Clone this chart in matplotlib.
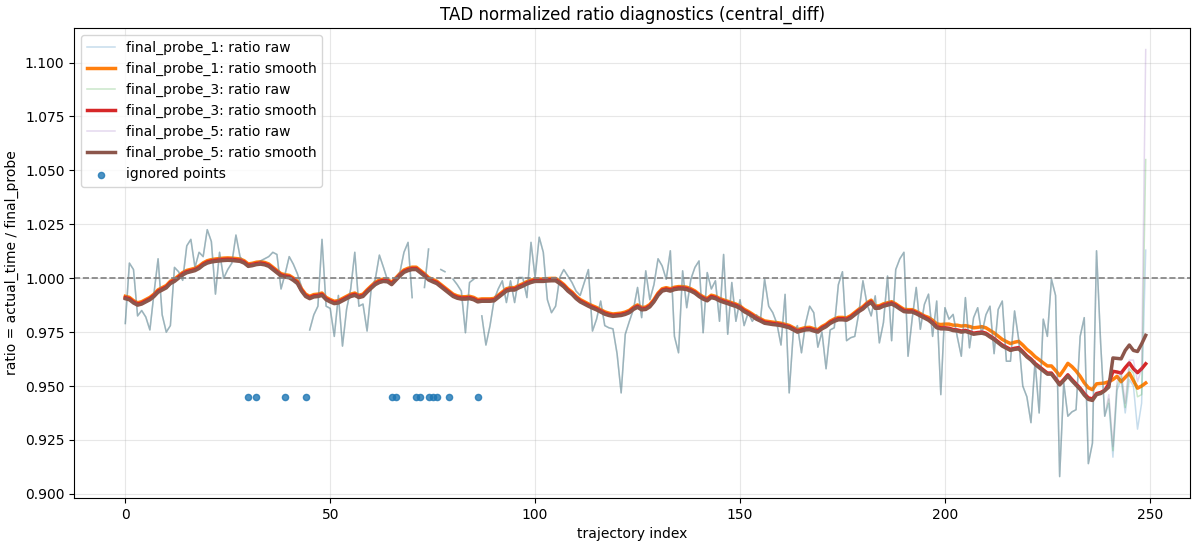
import matplotlib.pyplot as plt
import numpy as np

nan = np.nan

# raw ratio, identical for all probes up to index 239 (nan = ignored / missing)
raw_shared = [
    0.979, 1.007, 1.004, 0.9825, 0.985, 0.982, 0.976, 0.993, 1.009, 0.983,
    0.975, 0.978, 1.005, 1.003, 0.999, 1.015, 1.018, 1.005, 1.012, 1.010,
    1.0225, 1.017, 0.9926, 1.012, 1.000, 1.004, 1.007, 1.020, 1.010, 1.007,
    1.005, 1.007, 1.006, 1.008, 1.009, 1.010, 1.012, 1.011, 0.995, 1.002,
    1.010, 1.0065, 1.002, 0.996, nan, 0.976, 0.983, 0.987, 1.018, 0.987,
    0.986, 0.973, 0.992, 0.9685, 0.9856, 0.995, 1.012, 0.987, 0.988, 0.9755,
    0.995, 0.9995, 1.0107, 1.005, 0.999, 0.997, 1.000, 1.0026, 1.012, 1.0166,
    0.991, nan, nan, 0.9957, 1.0135, nan, nan, 1.004, 1.003, nan,
    0.9995, 0.997, 0.994, 0.9747, 0.998, 0.9995, nan, 0.9825, 0.969, 0.978,
    0.990, 0.995, 0.9988, 0.9887, 0.9988, 0.9887, 1.0003, 1.0003, 0.991, 1.0166,
    1.0003, 1.019, 1.012, 0.990, 0.984, 0.987, 1.0003, 1.004, 1.001, 0.998,
    0.994, 0.992, 0.998, 1.004, 0.9755, 0.981, 0.9894, 0.978, 0.977, 0.9765,
    0.965, 0.9468, 0.974, 0.980, 0.9856, 0.9957, 0.9817, 1.0034, 0.990, 0.997,
    1.009, 1.0057, 0.9995, 1.0127, 0.973, 0.9654, 1.0034, 0.9863, 0.9995, 1.005,
    1.008, 0.9747, 1.0026, 0.995, 0.9988, 0.980, 1.011, 0.974, 0.998, 0.980,
    0.990, 0.978, 0.984, 0.980, 0.983, 0.981, 0.9995, 0.987, 0.984, 0.979,
    0.969, 0.9925, 0.9468, 0.9747, 0.978, 0.9654, 0.979, 0.987, 0.984, 0.968,
    0.975, 0.958, 0.976, 0.977, 0.997, 1.003, 0.971, 0.9724, 0.973, 0.984,
    0.9988, 0.9879, 0.9825, 0.9918, 0.970, 0.9794, 1.001, 0.971, 1.004, 1.009,
    1.012, 0.9638, 0.981, 0.9957, 0.9763, 0.9879, 0.9926, 0.973, 0.9894, 0.946,
    0.9863, 0.981, 0.9832, 0.973, 0.9638, 0.991, 0.9677, 0.9817, 0.9863, 0.974,
    0.983, 0.987, 0.965, 0.9855, 0.9894, 0.9615, 0.9615, 0.9848, 0.9716, 0.950,
    0.945, 0.933, 0.9615, 0.9375, 0.981, 0.973, 0.9995, 0.992, 0.908, 0.9514,
    0.936, 0.938, 0.939, 0.973, 0.9817, 0.914, 0.9235, 1.0127, 0.970, 0.936,
]

# raw ratio per probe, indices 240-249
raw_tail_1 = [0.942, 0.917, 0.948, 0.953, 0.9375, 0.953, 0.950, 0.930, 0.942, 1.013]
raw_tail_3 = [0.944, 0.920, 0.950, 0.955, 0.940, 0.958, 0.956, 0.945, 0.946, 1.055]
raw_tail_5 = [0.946, 0.922, 0.952, 0.957, 0.942, 0.962, 0.962, 0.952, 0.958, 1.106]

# smoothed ratio per probe
smooth_1 = [
    0.9916, 0.9911, 0.9896, 0.9886, 0.9891, 0.9901, 0.9911, 0.9926, 0.9946, 0.9956,
    0.9966, 0.9986, 0.9996, 1.0011, 1.0026, 1.0036, 1.0041, 1.0046, 1.0056, 1.0071,
    1.0081, 1.0086, 1.0089, 1.0091, 1.0093, 1.0094, 1.0093, 1.0091, 1.0089, 1.0081,
    1.0066, 1.0069, 1.0074, 1.0076, 1.0073, 1.0066, 1.0051, 1.0036, 1.0021, 1.0016,
    1.0013, 1.0001, 0.9986, 0.9951, 0.9926, 0.9916, 0.9924, 0.9926, 0.9931, 0.9911,
    0.9901, 0.9893, 0.9896, 0.9906, 0.9916, 0.9926, 0.9931, 0.9921, 0.9926, 0.9946,
    0.9964, 0.9981, 0.9991, 0.9996, 0.9994, 0.9981, 1.0001, 1.0021, 1.0038, 1.0046,
    1.0051, 1.0051, 1.0036, 1.0021, 1.0003, 0.9994, 0.9986, 0.9971, 0.9956, 0.9941,
    0.9926, 0.9918, 0.9914, 0.9914, 0.9916, 0.9911, 0.9901, 0.9904, 0.9904, 0.9904,
    0.9906, 0.9921, 0.9936, 0.9951, 0.9956, 0.9956, 0.9966, 0.9974, 0.9984, 0.9991,
    0.9996, 0.9996, 0.9996, 0.9998, 0.9999, 0.9999, 0.9986, 0.9971, 0.9951, 0.9936,
    0.9916, 0.9901, 0.9891, 0.9881, 0.9872, 0.9864, 0.9854, 0.9844, 0.9838, 0.9834,
    0.9836, 0.9838, 0.9843, 0.9851, 0.9866, 0.9876, 0.9864, 0.9866, 0.9878, 0.9901,
    0.9931, 0.9951, 0.9956, 0.9951, 0.9958, 0.9961, 0.9961, 0.9958, 0.9951, 0.9941,
    0.9926, 0.9914, 0.9906, 0.9921, 0.9916, 0.9906, 0.9899, 0.9893, 0.9886, 0.9880,
    0.9871, 0.9856, 0.9846, 0.9834, 0.9821, 0.9812, 0.9802, 0.9799, 0.9796, 0.9794,
    0.9791, 0.9786, 0.9781, 0.9771, 0.9761, 0.9766, 0.9771, 0.9772, 0.9766, 0.9761,
    0.9776, 0.9786, 0.9801, 0.9811, 0.9818, 0.9818, 0.9816, 0.9826, 0.9841, 0.9856,
    0.9868, 0.9886, 0.9898, 0.9871, 0.9872, 0.9881, 0.9886, 0.9891, 0.9881, 0.9868,
    0.9856, 0.9854, 0.9854, 0.9846, 0.9836, 0.9825, 0.9818, 0.9805, 0.9788, 0.9785,
    0.9787, 0.9787, 0.9782, 0.9782, 0.9778, 0.9780, 0.9776, 0.9770, 0.9772, 0.9775,
    0.9770, 0.9758, 0.9746, 0.9731, 0.9716, 0.9706, 0.9697, 0.9703, 0.9707, 0.9690,
    0.9670, 0.9655, 0.9636, 0.9622, 0.9607, 0.9593, 0.9593, 0.9572, 0.9548, 0.9575,
    0.9605, 0.9590, 0.9570, 0.9545, 0.9515, 0.9492, 0.9483, 0.9510, 0.9512, 0.9514,
    0.9520, 0.9530, 0.9545, 0.9520, 0.9540, 0.9560, 0.9525, 0.9490, 0.9500, 0.9514,
]
smooth_3 = [
    0.991, 0.9905, 0.989, 0.988, 0.9885, 0.9895, 0.9905, 0.992, 0.994, 0.995,
    0.996, 0.998, 0.999, 1.0005, 1.002, 1.003, 1.0035, 1.004, 1.005, 1.0065,
    1.0075, 1.008, 1.0083, 1.0085, 1.0087, 1.0088, 1.0087, 1.0085, 1.0083, 1.0075,
    1.006, 1.0063, 1.0068, 1.007, 1.0067, 1.006, 1.0045, 1.003, 1.0015, 1.001,
    1.0007, 0.9995, 0.998, 0.9945, 0.992, 0.991, 0.9918, 0.992, 0.9925, 0.9905,
    0.9895, 0.9887, 0.989, 0.990, 0.991, 0.992, 0.9925, 0.9915, 0.992, 0.994,
    0.9958, 0.9975, 0.9985, 0.999, 0.9988, 0.9975, 0.9995, 1.0015, 1.0032, 1.004,
    1.0045, 1.0045, 1.003, 1.0015, 0.9997, 0.9988, 0.998, 0.9965, 0.995, 0.9935,
    0.992, 0.9912, 0.9908, 0.9908, 0.991, 0.9905, 0.9895, 0.9898, 0.9898, 0.9898,
    0.990, 0.9915, 0.993, 0.9945, 0.995, 0.995, 0.996, 0.9968, 0.9978, 0.9985,
    0.999, 0.999, 0.999, 0.9992, 0.9993, 0.9993, 0.998, 0.9965, 0.9945, 0.993,
    0.991, 0.9895, 0.9885, 0.9875, 0.9866, 0.9858, 0.9848, 0.9838, 0.9832, 0.9828,
    0.983, 0.9832, 0.9837, 0.9845, 0.986, 0.987, 0.9858, 0.986, 0.9872, 0.9895,
    0.9925, 0.9945, 0.995, 0.9945, 0.9952, 0.9955, 0.9955, 0.9952, 0.9945, 0.9935,
    0.992, 0.9908, 0.990, 0.9915, 0.991, 0.990, 0.9893, 0.9887, 0.988, 0.9874,
    0.9865, 0.985, 0.984, 0.9828, 0.9815, 0.9806, 0.9796, 0.9793, 0.979, 0.9788,
    0.9785, 0.978, 0.9775, 0.9765, 0.9755, 0.976, 0.9765, 0.9766, 0.976, 0.9755,
    0.977, 0.978, 0.9795, 0.9805, 0.9812, 0.9812, 0.981, 0.982, 0.9835, 0.985,
    0.9862, 0.988, 0.9892, 0.9865, 0.9866, 0.9875, 0.988, 0.9885, 0.9875, 0.9862,
    0.985, 0.9848, 0.9848, 0.984, 0.983, 0.982, 0.981, 0.9795, 0.9775, 0.977,
    0.977, 0.9768, 0.9762, 0.976, 0.9755, 0.9758, 0.9752, 0.9745, 0.9748, 0.975,
    0.9745, 0.9732, 0.972, 0.9705, 0.969, 0.968, 0.967, 0.9675, 0.9678, 0.966,
    0.964, 0.9625, 0.9605, 0.959, 0.9575, 0.956, 0.956, 0.9535, 0.951, 0.953,
    0.9552, 0.953, 0.951, 0.949, 0.9465, 0.9445, 0.944, 0.9465, 0.947, 0.948,
    0.951, 0.9568, 0.9565, 0.956, 0.9585, 0.9607, 0.958, 0.9562, 0.958, 0.9603,
]
smooth_5 = [
    0.9905, 0.990, 0.9885, 0.9875, 0.988, 0.989, 0.990, 0.9915, 0.9935, 0.9945,
    0.9955, 0.9975, 0.9985, 1.000, 1.0015, 1.0025, 1.003, 1.0035, 1.0045, 1.006,
    1.007, 1.0075, 1.0078, 1.008, 1.0082, 1.0083, 1.0082, 1.008, 1.0078, 1.007,
    1.0055, 1.0058, 1.0063, 1.0065, 1.0062, 1.0055, 1.004, 1.0025, 1.001, 1.0005,
    1.0002, 0.999, 0.9975, 0.994, 0.9915, 0.9905, 0.9913, 0.9915, 0.992, 0.990,
    0.989, 0.9882, 0.9885, 0.9895, 0.9905, 0.9915, 0.992, 0.991, 0.9915, 0.9935,
    0.9953, 0.997, 0.998, 0.9985, 0.9983, 0.997, 0.999, 1.001, 1.0027, 1.0035,
    1.004, 1.004, 1.0025, 1.001, 0.9992, 0.9983, 0.9975, 0.996, 0.9945, 0.993,
    0.9915, 0.9907, 0.9903, 0.9903, 0.9905, 0.990, 0.989, 0.9893, 0.9893, 0.9893,
    0.9895, 0.991, 0.9925, 0.994, 0.9945, 0.9945, 0.9955, 0.9963, 0.9973, 0.998,
    0.9985, 0.9985, 0.9985, 0.9987, 0.9988, 0.9988, 0.9975, 0.996, 0.994, 0.9925,
    0.9905, 0.989, 0.988, 0.987, 0.9861, 0.9853, 0.9843, 0.9833, 0.9827, 0.9823,
    0.9825, 0.9827, 0.9832, 0.984, 0.9855, 0.9865, 0.9853, 0.9855, 0.9867, 0.989,
    0.992, 0.994, 0.9945, 0.994, 0.9947, 0.995, 0.995, 0.9947, 0.994, 0.993,
    0.9915, 0.9903, 0.9895, 0.991, 0.9905, 0.9895, 0.9888, 0.9882, 0.9875, 0.9869,
    0.986, 0.9845, 0.9835, 0.9823, 0.981, 0.9801, 0.9791, 0.9788, 0.9785, 0.9783,
    0.978, 0.9775, 0.977, 0.976, 0.975, 0.9755, 0.976, 0.9761, 0.9755, 0.975,
    0.9765, 0.9775, 0.979, 0.980, 0.9807, 0.9807, 0.9805, 0.9815, 0.983, 0.9845,
    0.9857, 0.9875, 0.9887, 0.986, 0.9861, 0.987, 0.9875, 0.988, 0.987, 0.9857,
    0.9845, 0.9843, 0.9843, 0.9835, 0.9825, 0.9815, 0.9805, 0.979, 0.977, 0.9765,
    0.9765, 0.9763, 0.9757, 0.9755, 0.975, 0.9753, 0.9747, 0.974, 0.9743, 0.9745,
    0.974, 0.9727, 0.9715, 0.970, 0.9685, 0.9675, 0.9665, 0.967, 0.9672, 0.9655,
    0.9635, 0.962, 0.960, 0.9585, 0.957, 0.9555, 0.9555, 0.953, 0.9505, 0.9525,
    0.9546, 0.9524, 0.9504, 0.9484, 0.9458, 0.9438, 0.9433, 0.946, 0.9465, 0.9478,
    0.9495, 0.963, 0.9628, 0.9626, 0.9665, 0.969, 0.9665, 0.966, 0.9695, 0.9735,
]

ignored_idx = [30, 32, 39, 44, 65, 66, 71, 72, 74, 75, 76, 79, 86]
ignored_level = 0.945

probes = [
    ("final_probe_1", raw_tail_1, smooth_1, "tab:blue", "tab:orange"),
    ("final_probe_3", raw_tail_3, smooth_3, "tab:green", "tab:red"),
    ("final_probe_5", raw_tail_5, smooth_5, "tab:purple", "tab:brown"),
]

fig, ax = plt.subplots(figsize=(11.98, 5.43), dpi=100)
fig.subplots_adjust(left=0.062, right=0.9933, top=0.948, bottom=0.083)

for name, raw_tail, smooth, raw_color, smooth_color in probes:
    raw = np.array(raw_shared + raw_tail)
    x = np.arange(len(raw))
    ax.plot(x, raw, color=raw_color, alpha=0.25, lw=1.1, label=f"{name}: ratio raw")
    ax.plot(x, smooth, color=smooth_color, lw=2.5, label=f"{name}: ratio smooth")

ax.scatter(ignored_idx, [ignored_level] * len(ignored_idx), s=20, color="tab:blue",
           alpha=0.8, label="ignored points", zorder=3)

ax.axhline(1.0, color="gray", linestyle="--", linewidth=1.2)

ax.set_xlim(-12.45, 259.8)
ax.set_title("TAD normalized ratio diagnostics (central_diff)")
ax.set_xlabel("trajectory index")
ax.set_ylabel("ratio = actual_time / final_probe")
ax.grid(True, alpha=0.3)
ax.legend(loc="upper left")

fig.savefig("out.png")
